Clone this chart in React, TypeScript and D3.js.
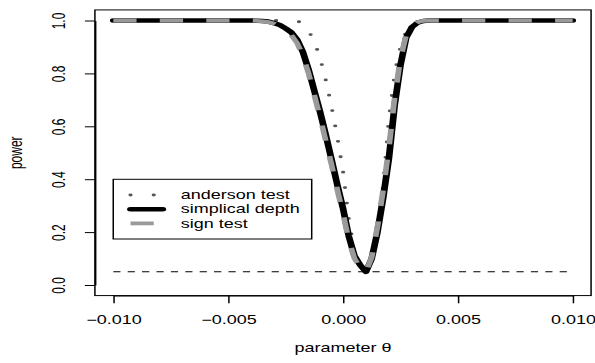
import { useEffect, useRef } from "react";
import * as d3 from "d3";

// power curves, one value per theta
const theta = [-0.01, -0.004, -0.00375, -0.0035, -0.00325, -0.003, -0.00275, -0.0025, -0.00225, -0.002,
  -0.00175, -0.0015, -0.00125, -0.001, -0.00075, -0.0005, -0.00025, 0, 0.00025, 0.0005,
  0.00075, 0.001, 0.00125, 0.0015, 0.00175, 0.002, 0.00225, 0.0025, 0.00275, 0.003,
  0.00325, 0.0035, 0.00375, 0.004, 0.01];
const anderson = [1, 1, 1, 1, 1, 1, 1, 1, 1, 0.998,
  0.99, 0.962, 0.92, 0.86, 0.775, 0.675, 0.56, 0.43, 0.25, 0.125,
  0.075, 0.05, 0.1, 0.21, 0.38, 0.63, 0.8, 0.9, 0.958, 0.985,
  0.996, 1, 1, 1, 1];
const simplical = [1, 1, 0.999, 0.998, 0.996, 0.99, 0.983, 0.97, 0.955, 0.928,
  0.882, 0.815, 0.735, 0.655, 0.568, 0.475, 0.38, 0.29, 0.185, 0.11,
  0.075, 0.05, 0.1, 0.2, 0.33, 0.48, 0.68, 0.83, 0.935, 0.975,
  0.992, 0.998, 1, 1, 1];
const signTest = [1, 1, 0.999, 0.997, 0.994, 0.988, 0.978, 0.963, 0.945, 0.915,
  0.868, 0.8, 0.718, 0.635, 0.545, 0.455, 0.36, 0.27, 0.17, 0.1,
  0.065, 0.05, 0.105, 0.22, 0.36, 0.52, 0.71, 0.855, 0.945, 0.98,
  0.994, 0.999, 1, 1, 1];
const nominalLevel = 0.05;

const xTicks = [-0.01, -0.005, 0, 0.005, 0.01];
const yTicks = [0, 0.2, 0.4, 0.6, 0.8, 1.0];
const legendLabels = ["anderson test", "simplical depth", "sign test"];

const W = 595;
const H = 363;
const SX = 1.5; // the picture is stretched sideways, draw in a narrower frame
const FONT = "'Liberation Sans', Arial, Helvetica, sans-serif";

export default function App() {
  const ref = useRef<SVGSVGElement | null>(null);

  useEffect(() => {
    const svg = d3.select(ref.current);
    svg.selectAll("*").remove();

    const x = d3.scaleLinear().domain([-0.01, 0.01]).range([75.53, 381.8]);
    const y = d3.scaleLinear().domain([0, 1]).range([285, 20.5]);
    const x0 = x(-0.0108), x1 = x(0.0108);
    const y0 = y(-0.04), y1 = y(1.04);

    const g = svg.append("g").attr("transform", `scale(${SX},1)`)
      .style("font-family", FONT);

    const line = d3.line<number>().x((_, i) => x(theta[i])).y((d) => y(d));

    // alpha level
    g.append("line")
      .attr("x1", x(-0.01)).attr("x2", x(0.01))
      .attr("y1", y(nominalLevel)).attr("y2", y(nominalLevel))
      .attr("stroke", "#000").attr("stroke-width", 1)
      .attr("stroke-dasharray", "4.8,4.8");

    g.append("path").attr("d", line(anderson)!)
      .attr("fill", "none").attr("stroke", "#555").attr("stroke-width", 2.8)
      .attr("stroke-linecap", "round").attr("stroke-dasharray", "0,15.5");
    g.append("path").attr("d", line(simplical)!)
      .attr("fill", "none").attr("stroke", "#000").attr("stroke-width", 4.5)
      .attr("stroke-linecap", "round").attr("stroke-linejoin", "round");
    g.append("path").attr("d", line(signTest)!)
      .attr("fill", "none").attr("stroke", "#9a9a9a").attr("stroke-width", 3.8)
      .attr("stroke-linejoin", "round").attr("stroke-dasharray", "15.5,15.5");

    // axes
    const xa = g.append("g").attr("transform", `translate(0,${y0})`)
      .call(d3.axisBottom(x).tickValues(xTicks).tickSize(7.7).tickSizeOuter(0)
        .tickFormat((d) => d3.format(".3f")(d as number).replace("-", "\u2212")));
    xa.selectAll("text").attr("y", 28).attr("dy", 0)
      .style("font-size", "12px").attr("fill", "#000");

    const ya = g.append("g").attr("transform", `translate(${x0},0)`)
      .call(d3.axisLeft(y).tickValues(yTicks).tickSize(6.7).tickSizeOuter(0)
        .tickFormat((d) => d3.format(".1f")(d as number)));
    ya.selectAll("text")
      .attr("transform", "rotate(-90)")
      .attr("x", 0).attr("y", -(x0 - 43.3)).attr("dy", 0)
      .attr("text-anchor", "middle")
      .style("font-size", "12px").attr("fill", "#000");
    g.selectAll(".domain").attr("stroke", "#000");

    g.append("rect")
      .attr("x", x0).attr("y", y1).attr("width", x1 - x0).attr("height", y0 - y1)
      .attr("fill", "none").attr("stroke", "#000").attr("stroke-width", 1);

    // axis titles
    g.append("text").attr("x", (x0 + x1) / 2).attr("y", 352)
      .attr("text-anchor", "middle").style("font-size", "12px")
      .text("parameter \u03b8");
    g.append("text").attr("transform", `translate(14.4,${(y0 + y1) / 2}) rotate(-90)`)
      .attr("text-anchor", "middle").style("font-size", "12px")
      .text("power");

    // legend
    const lg = g.append("g");
    lg.append("rect")
      .attr("x", 75.5).attr("y", 179.3).attr("width", 132.3).attr("height", 59.7)
      .attr("fill", "#fff").attr("stroke", "#000").attr("stroke-width", 1);
    const rows = [195, 209.2, 223.4];
    const styles = [
      { stroke: "#555", width: 2.8, dash: "0,15.5", cap: "round" },
      { stroke: "#000", width: 4.5, dash: "none", cap: "round" },
      { stroke: "#9a9a9a", width: 3.8, dash: "15.5,15.5", cap: "butt" },
    ];
    legendLabels.forEach((lab, i) => {
      lg.append("line")
        .attr("x1", 87).attr("x2", 108.5).attr("y1", rows[i]).attr("y2", rows[i])
        .attr("stroke", styles[i].stroke).attr("stroke-width", styles[i].width)
        .attr("stroke-dasharray", styles[i].dash).attr("stroke-linecap", styles[i].cap);
      lg.append("text").attr("x", 120.5).attr("y", rows[i] + 4.3)
        .style("font-size", "12px").text(lab);
    });
  }, []);

  return (
    <svg ref={ref} width={W} height={H}
      style={{ position: "absolute", left: 0, top: 0, background: "#fff" }} />
  );
}
